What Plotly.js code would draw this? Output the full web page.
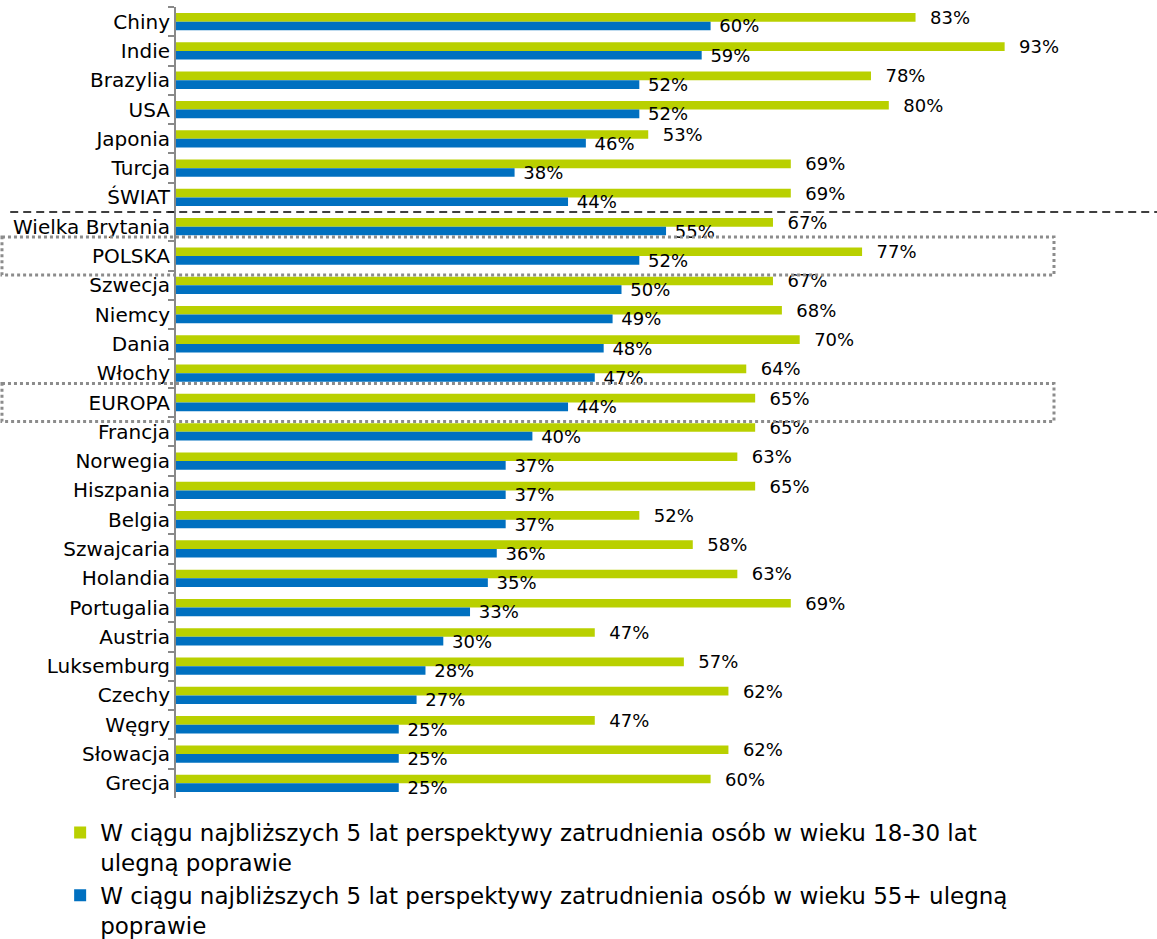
<!DOCTYPE html>
<html>
<head>
<meta charset="utf-8">
<script src="https://cdn.plot.ly/plotly-3.0.1.min.js"></script>
<style>
html,body{margin:0;padding:0;background:#fff;}
#chart{width:1157px;height:939px;}
</style>
</head>
<body>
<div id="chart"></div>
<script>
const categories = ["Chiny","Indie","Brazylia","USA","Japonia","Turcja","ŚWIAT","Wielka Brytania","POLSKA","Szwecja","Niemcy","Dania","Włochy","EUROPA","Francja","Norwegia","Hiszpania","Belgia","Szwajcaria","Holandia","Portugalia","Austria","Luksemburg","Czechy","Węgry","Słowacja","Grecja"];
const young = [83,93,78,80,53,69,69,67,77,67,68,70,64,65,65,63,65,52,58,63,69,47,57,62,47,62,60];
const older = [60,59,52,52,46,38,44,55,52,50,49,48,47,44,40,37,37,37,36,35,33,30,28,27,25,25,25];
const seriesNames = [
  "W ciągu najbliższych 5 lat perspektywy zatrudnienia osób w wieku 18-30 lat<br>ulegną poprawie",
  "W ciągu najbliższych 5 lat perspektywy zatrudnienia osób w wieku 55+ ulegną<br>poprawie"
];
const highlighted = ["POLSKA","EUROPA"];
const separatorBefore = "Wielka Brytania";

const FONT = "DejaVu Sans, Verdana, sans-serif";

const traces = [
  {type:"bar", orientation:"h", name:seriesNames[0], y:categories, x:young,
   marker:{color:"#B9D000"},
   text:young.map(v=>"\u00a0\u00a0"+v+"%"), textposition:"outside", constraintext:"none", cliponaxis:false,
   textfont:{family:FONT,size:18,color:"#000"}, hoverinfo:"x+y"},
  {type:"bar", orientation:"h", name:seriesNames[1], y:categories, x:older,
   marker:{color:"#0070C0"},
   text:older.map(v=>"\u00a0"+v+"%"), textposition:"outside", constraintext:"none", cliponaxis:false,
   textfont:{family:FONT,size:18,color:"#000"}, hoverinfo:"x+y"}
];

const shapes = [];
const sepIdx = categories.indexOf(separatorBefore);
shapes.push({type:"line", xref:"paper", yref:"y", x0:-0.169, x1:1, y0:sepIdx-0.5, y1:sepIdx-0.5,
  line:{color:"#000", width:1.5, dash:"8px,5px"}});
highlighted.forEach(c=>{
  const i = categories.indexOf(c);
  shapes.push({type:"rect", xref:"paper", yref:"y", x0:-0.1774, x1:0.895, y0:i-0.65, y1:i+0.65,
    line:{color:"#8C8C8C", width:3, dash:"3px,3px"}, fillcolor:"rgba(0,0,0,0)"});
});

const layout = {
  width:1157, height:939,
  margin:{l:176, r:0, t:7, b:141, autoexpand:false},
  paper_bgcolor:"#fff", plot_bgcolor:"#fff",
  font:{family:FONT, color:"#000"},
  barmode:"group", bargap:0.41, bargroupgap:0,
  xaxis:{visible:false, range:[0,110.1], fixedrange:true},
  yaxis:{type:"category", categoryorder:"array", categoryarray:categories, autorange:"reversed",
    showline:true, linecolor:"#898989", linewidth:2, ticks:"outside", tickson:"boundaries",
    ticklen:6, tickcolor:"#898989", tickwidth:2, showgrid:false, zeroline:false,
    tickfont:{family:FONT, size:20, color:"#000"}, fixedrange:true},
  showlegend:true,
  legend:{orientation:"v", traceorder:"normal", x:-0.1181, xanchor:"left",
    yref:"container", y:1-811/939, yanchor:"top",
    valign:"top", font:{family:FONT, size:23, color:"#000"}, tracegroupgap:0, bgcolor:"rgba(0,0,0,0)"},
  shapes:shapes
};

Plotly.newPlot("chart", traces, layout, {displayModeBar:false, staticPlot:true});
</script>
</body>
</html>
